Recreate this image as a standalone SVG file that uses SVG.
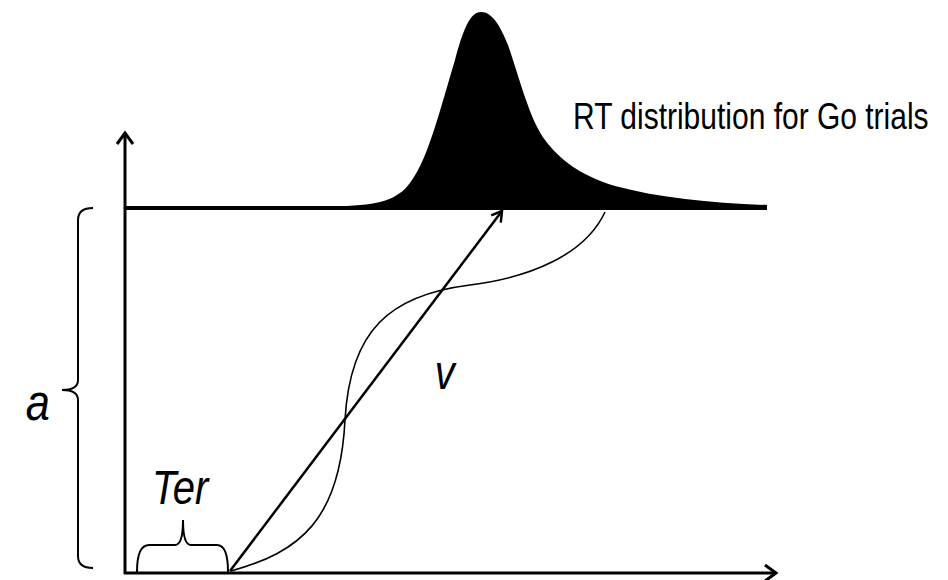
<svg xmlns="http://www.w3.org/2000/svg" width="948" height="580" viewBox="0 0 948 580">
<style>
.ax{fill:none;stroke:#000;stroke-width:3}
.thin{fill:none;stroke:#000;stroke-width:1.6}
.br{fill:none;stroke:#000;stroke-width:2}
.lbl{font-family:"Liberation Sans",Arial,sans-serif;fill:#000}
.it{font-style:italic}
</style>
<defs>
<marker id="chev" markerUnits="userSpaceOnUse" markerWidth="30" markerHeight="30" viewBox="-15 -15 30 30" refX="0" refY="0" orient="auto">
<path d="M-11,-8 L0,0 L-11,8" fill="none" stroke="#000" stroke-width="3"/>
</marker>
<marker id="chev2" markerUnits="userSpaceOnUse" markerWidth="30" markerHeight="30" viewBox="-15 -15 30 30" refX="0" refY="0" orient="auto">
<path d="M-10,-6 L0,0 L-10,6" fill="none" stroke="#000" stroke-width="2.5"/>
</marker>
</defs>
<g id="distribution">
<path d="M347,206 C385,204 400,198 412,180 C428,158 440,110 455,60 C463,30 470,12 481,12 C492,12 500,25 508,45 C520,80 530,120 545,140 C560,160 580,175 615,186 C660,198 710,203 767,205 L767,210 L347,210 Z" fill="#000"/>
</g>
<g id="connectors">
<line class="ax" x1="125" y1="574" x2="125" y2="133" marker-end="url(#chev)"/>
<line class="ax" x1="124" y1="573" x2="776" y2="573" marker-end="url(#chev)"/>
<line x1="125" y1="208" x2="767" y2="208" stroke="#000" stroke-width="4"/>
<line x1="230" y1="571" x2="502" y2="211" stroke="#000" stroke-width="2.5" marker-end="url(#chev2)"/>
<path class="thin" d="M231,571 C300,552 340,520 345,420 C350,330 390,295 470,285 C530,277.5 585,255 605,212"/>
</g>
<g id="brace-a">
<path class="br" d="M93,208 Q78,208 78,220 L78,380 Q78,390 62,390 Q78,390 78,400 L78,556 Q78,568 93,568"/>
</g>
<g id="brace-ter">
<path class="br" d="M137,572 Q137,545 149,545 L175,545 Q183,545 183,520 Q183,545 191,545 L217,545 Q228,545 228,572"/>
</g>
<g id="labels">
<g transform="scale(0.833,1)">
<text class="lbl" x="688" y="129" font-size="36">RT distribution for Go trials</text>
<text class="lbl it" x="31" y="420" font-size="52">a</text>
<text class="lbl it" x="522" y="389" font-size="48">v</text>
<text class="lbl it" x="182.5" y="504" font-size="48">Ter</text>
</g>
</g>
</svg>
